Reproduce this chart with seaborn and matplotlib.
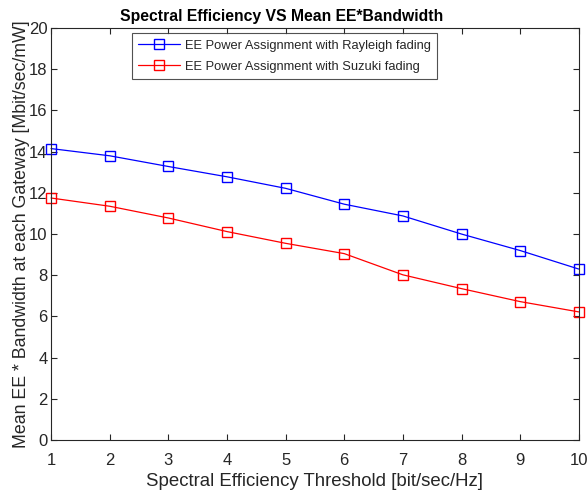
import matplotlib
matplotlib.use("Agg")
import matplotlib.pyplot as plt
from matplotlib.lines import Line2D
import pandas as pd
import seaborn as sns

# ── Data ─────────────────────────────────────────────────────────────────────
thresholds = [1, 2, 3, 4, 5, 6, 7, 8, 9, 10]
rayleigh = [14.15, 13.80, 13.28, 12.78, 12.22, 11.45, 10.88, 10.00, 9.20, 8.30]
suzuki = [11.75, 11.35, 10.78, 10.12, 9.55, 9.05, 8.02, 7.35, 6.72, 6.22]
series_names = [
    "EE Power Assignment with Rayleigh fading",
    "EE Power Assignment with Suzuki fading",
]
colors = ["#0000ff", "#ff0000"]

df = pd.DataFrame({
    "threshold": thresholds * 2,
    "value": rayleigh + suzuki,
    "series": [series_names[0]] * len(thresholds) + [series_names[1]] * len(thresholds),
})

sns.set_theme(style="white")
plt.rcParams["font.family"] = ["Liberation Sans", "DejaVu Sans"]

fig = plt.figure(figsize=(5.87, 4.93), dpi=100)
ax = fig.add_axes([0.087, 0.1075, 0.899, 0.8355])

sns.lineplot(
    data=df, x="threshold", y="value", hue="series",
    palette=dict(zip(series_names, colors)),
    marker="s", markersize=7, markerfacecolor="none", markeredgewidth=1.0,
    linewidth=0.9, ax=ax, legend=False,
)
for line, c in zip(ax.lines, colors):
    line.set_markeredgecolor(c)
    line.set_clip_on(False)

ax.set_xlim(1, 10)
ax.set_ylim(0, 20)
ax.set_xticks(range(1, 11))
ax.set_yticks(range(0, 21, 2))
ax.tick_params(direction="in", length=4, width=0.8, color="#262626",
               labelsize=12, labelcolor="#262626", top=True, right=True,
               bottom=True, left=True)
ax.tick_params(axis="x", pad=9)
ax.tick_params(axis="y", pad=2.5)
for sp in ax.spines.values():
    sp.set_color("#262626")
    sp.set_linewidth(0.8)

ax.set_xlabel("Spectral Efficiency Threshold [bit/sec/Hz]", fontsize=13.4, color="#262626")
ax.set_ylabel("Mean EE * Bandwidth at each Gateway [Mbit/sec/mW]", fontsize=12.8,
              color="#262626", labelpad=-1)
ax.set_title("Spectral Efficiency VS Mean EE*Bandwidth", fontsize=11.3,
             fontweight="bold", color="black", x=0.4375, pad=5)

handles = [
    Line2D([], [], color=c, marker="s", markersize=7, markerfacecolor="none",
           markeredgecolor=c, linewidth=0.9)
    for c in colors
]
leg = ax.legend(handles, series_names, loc="upper left", bbox_to_anchor=(0.153, 0.988),
                borderaxespad=0, fontsize=9.3, frameon=True, fancybox=False,
                edgecolor="#262626", borderpad=0.5, labelspacing=0.7,
                handlelength=3.2, handletextpad=0.4)
leg.get_frame().set_linewidth(0.8)

fig.savefig("out.png", dpi=100)
